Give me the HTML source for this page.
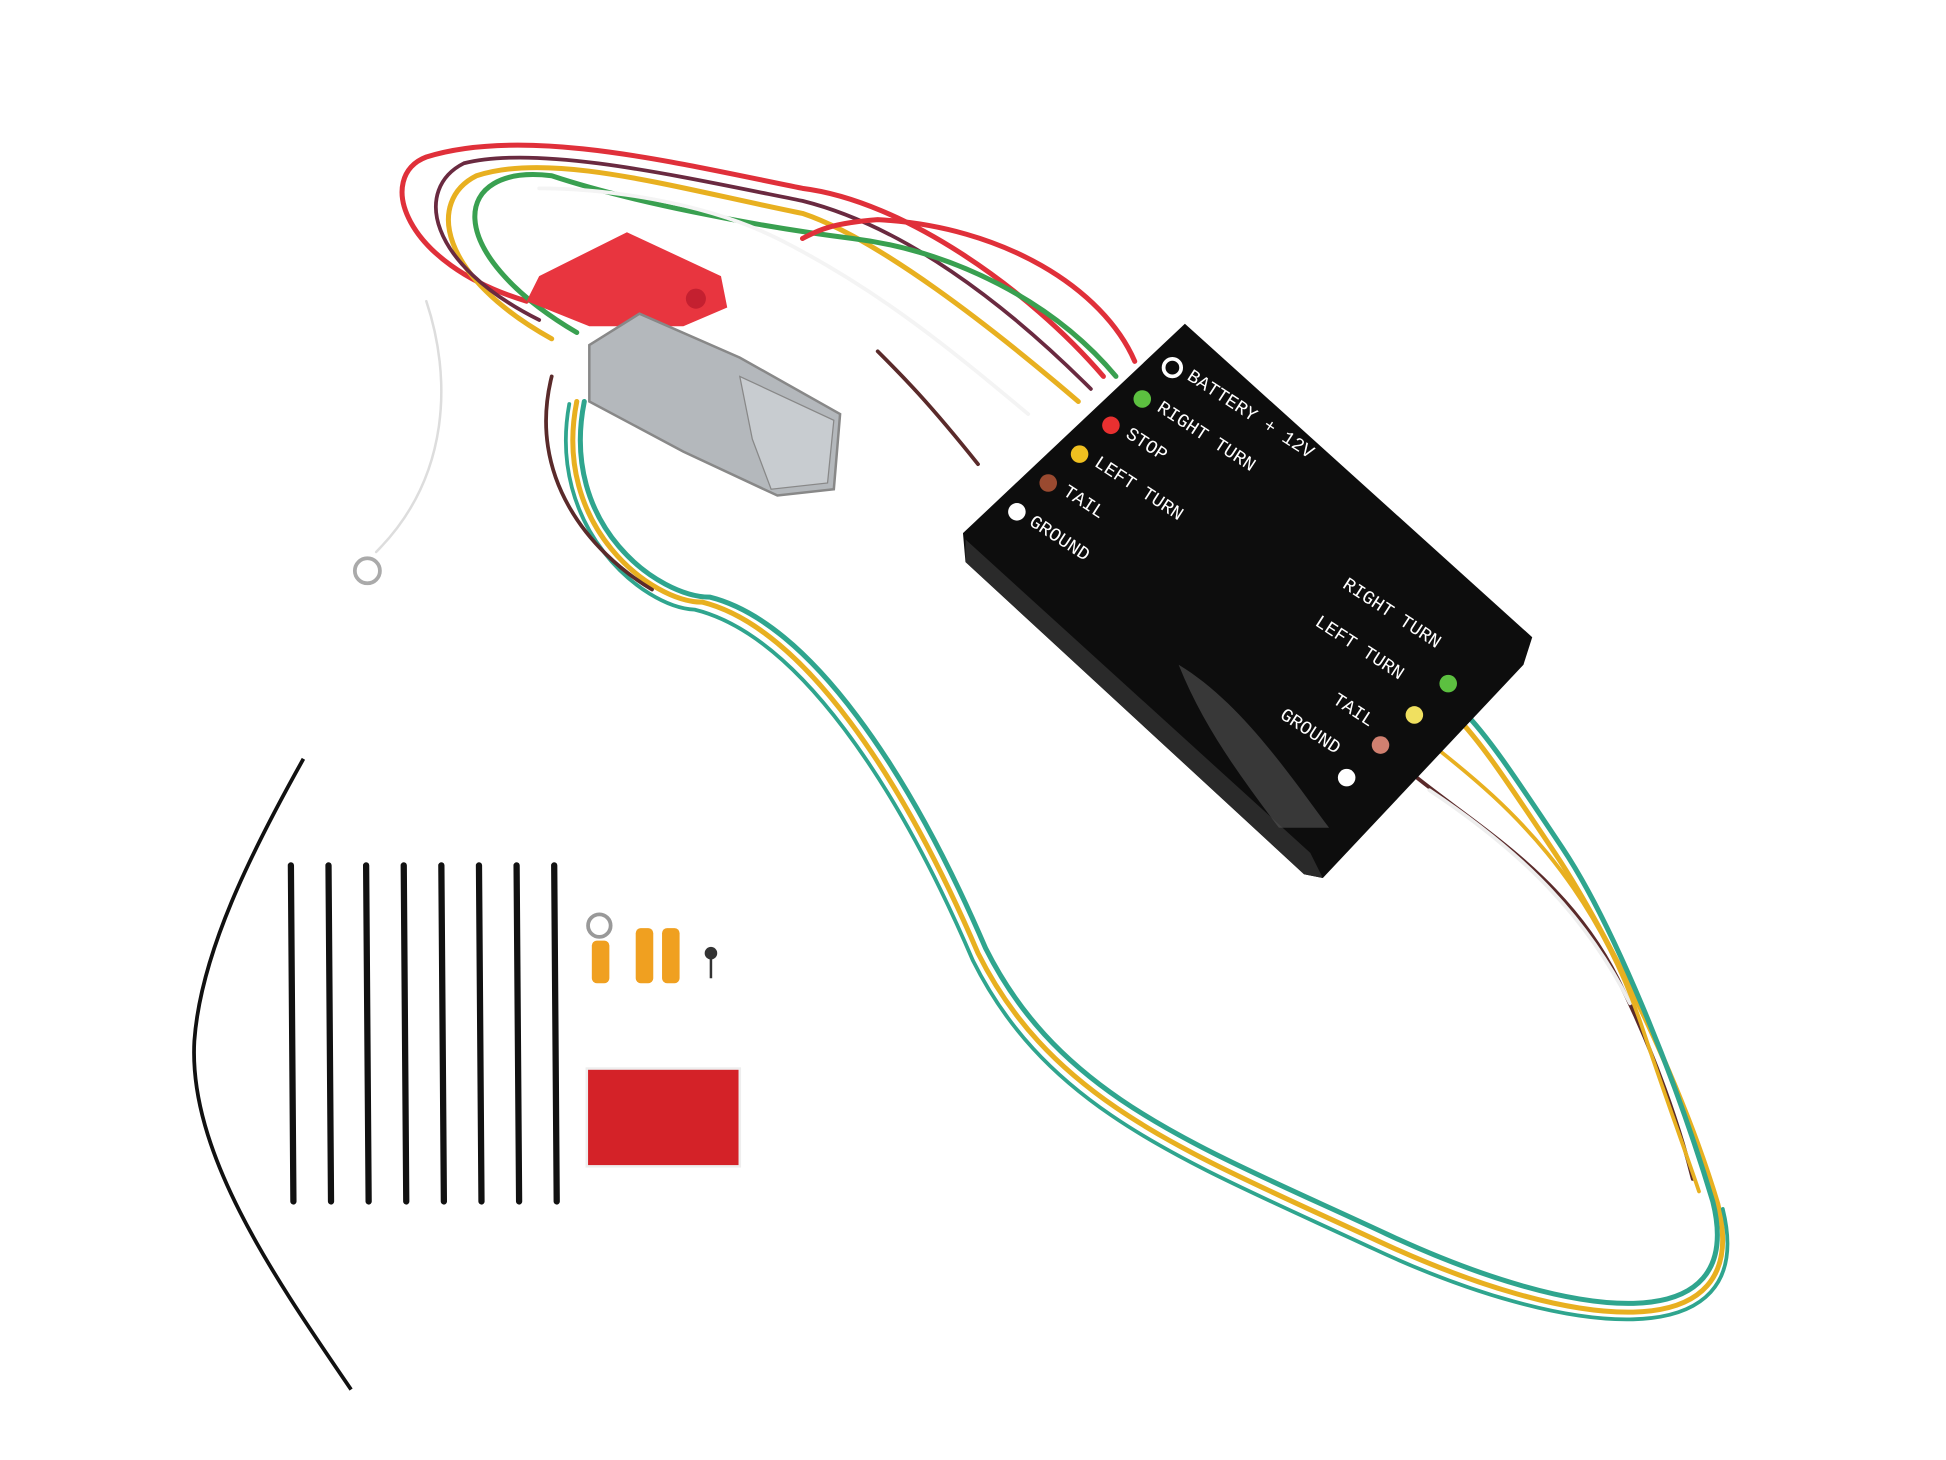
<!DOCTYPE html>
<html><head><style>html,body{margin:0;padding:0;background:#fff;width:1946px;height:1460px;overflow:hidden}</style></head>
<body>
<svg width="1946" height="1460" viewBox="0 0 1552 1164" xmlns="http://www.w3.org/2000/svg" font-family="Liberation Mono, monospace">
<rect width="1552" height="1164" fill="#fff"/>
<!-- long loop wires -->
<g fill="none" stroke-width="4" stroke-linecap="round">
<path d="M460 320 C440 420 520 480 560 480 C640 500 720 620 780 760 C840 880 950 920 1100 990 C1250 1060 1400 1080 1370 960 C1340 860 1280 740 1240 680 C1200 620 1180 590 1160 570" stroke="#e8b020"/>
<path d="M466 320 C446 420 526 476 566 476 C646 496 726 616 786 756 C846 876 956 914 1106 984 C1256 1054 1394 1070 1366 958 C1336 858 1286 736 1246 676 C1206 616 1186 586 1166 566" stroke="#2fa58e"/>
<path d="M454 322 C436 420 512 484 554 486 C636 506 716 626 776 766 C836 886 946 926 1096 996 C1246 1066 1404 1086 1374 964" stroke="#2fa58e" stroke-width="3"/>
<path d="M440 300 C420 380 470 440 520 470" stroke="#5a2a2a" stroke-width="3"/>
<path d="M1130 620 C1180 660 1250 700 1290 780 C1320 840 1340 900 1350 940" stroke="#5a2a2a" stroke-width="3"/>
<path d="M1140 630 C1200 670 1260 720 1300 800" stroke="#eee" stroke-width="3"/>
<path d="M1150 600 C1200 640 1270 700 1310 820 C1330 880 1345 920 1355 950" stroke="#e8b020" stroke-width="3"/>
<!-- top loop wires -->
<path d="M880 300 C820 230 720 160 640 150 C540 130 420 100 340 125 C300 140 320 210 420 240" stroke="#e0303a"/>
<path d="M860 320 C790 260 700 190 640 170 C540 150 440 120 380 140 C340 160 350 220 440 270" stroke="#e8b020"/>
<path d="M870 310 C800 240 720 180 640 160 C540 140 430 115 370 130 C330 150 340 210 430 255" stroke="#6a2a40" stroke-width="3"/>
<path d="M890 300 C840 240 760 200 680 190 C600 180 500 160 440 140 C360 130 350 200 460 265" stroke="#39a050"/>
<path d="M905 288 C880 230 800 180 700 175 C660 178 650 185 640 190" stroke="#e0303a"/>
<path d="M820 330 C760 280 700 230 620 190 C560 160 480 150 430 150" stroke="#f4f4f4" stroke-width="3"/>
<path d="M780 370 C740 320 720 300 700 280" stroke="#5a2a2a" stroke-width="3"/>
<path d="M340 240 C360 300 360 380 300 440" stroke="#ddd" stroke-width="2"/>
</g>
<circle cx="293" cy="455" r="10" fill="none" stroke="#aaa" stroke-width="3"/>
<!-- red fuse holder -->
<polygon points="430,220 500,185 575,220 580,245 545,260 470,260 420,240" fill="#e8353f"/>
<circle cx="555" cy="238" r="8" fill="#c42030"/>
<!-- gray connector -->
<polygon points="470,275 510,250 590,285 670,330 665,390 620,395 545,360 470,320" fill="#b4b8bc" stroke="#888" stroke-width="2"/>
<polygon points="590,300 665,335 660,385 615,390 600,350" fill="#c8ccd0" stroke="#888"/>
<!-- black box -->
<polygon points="945,258 1222,508 1215,530 1055,700 1040,697 770,448 768,425" fill="#0d0d0d"/>
<polygon points="770,430 1045,680 1055,700 1040,697 770,448" fill="#2a2a2a"/>
<path d="M940 530 C990 560 1030 620 1060 660 L1020 660 C990 620 960 580 940 530Z" fill="#555" opacity="0.6"/>
<g fill="#fff" font-size="15">
<circle cx="935" cy="293" r="7" fill="none" stroke="#fff" stroke-width="3"/>
<text transform="translate(946,302) rotate(33)">BATTERY + 12V</text>
<circle cx="911" cy="318" r="7" fill="#5cc040"/>
<text transform="translate(922,327) rotate(33)">RIGHT TURN</text>
<circle cx="886" cy="339" r="7" fill="#e83030"/>
<text transform="translate(897,348) rotate(33)">STOP</text>
<circle cx="861" cy="362" r="7" fill="#f0c020"/>
<text transform="translate(872,371) rotate(33)">LEFT TURN</text>
<circle cx="836" cy="385" r="7" fill="#9a4a30"/>
<text transform="translate(847,394) rotate(33)">TAIL</text>
<circle cx="811" cy="408" r="7" fill="#fff"/>
<text transform="translate(820,418) rotate(33)">GROUND</text>
<text transform="translate(1070,468) rotate(33)">RIGHT TURN</text>
<circle cx="1155" cy="545" r="7" fill="#5cc040"/>
<text transform="translate(1048,498) rotate(33)">LEFT TURN</text>
<circle cx="1128" cy="570" r="7" fill="#f0e060"/>
<text transform="translate(1062,560) rotate(33)">TAIL</text>
<circle cx="1101" cy="594" r="7" fill="#d08070"/>
<text transform="translate(1020,572) rotate(33)">GROUND</text>
<circle cx="1074" cy="620" r="7" fill="#fff"/>
</g>
<!-- ties -->
<g stroke="#111" stroke-width="5" stroke-linecap="round">
<line x1="232" y1="690" x2="234" y2="958"/><line x1="262" y1="690" x2="264" y2="958"/>
<line x1="292" y1="690" x2="294" y2="958"/><line x1="322" y1="690" x2="324" y2="958"/>
<line x1="352" y1="690" x2="354" y2="958"/><line x1="382" y1="690" x2="384" y2="958"/>
<line x1="412" y1="690" x2="414" y2="958"/><line x1="442" y1="690" x2="444" y2="958"/>
</g>
<path d="M242 605 C200 680 160 760 155 830 C150 920 220 1020 280 1108" fill="none" stroke="#111" stroke-width="3"/>
<!-- small parts -->
<circle cx="478" cy="738" r="9" fill="none" stroke="#999" stroke-width="3"/>
<rect x="472" y="750" width="14" height="34" rx="4" fill="#f0a020"/>
<rect x="507" y="740" width="14" height="44" rx="4" fill="#f0a020"/>
<rect x="528" y="740" width="14" height="44" rx="4" fill="#f0a020"/>
<circle cx="567" cy="760" r="5" fill="#333"/><line x1="567" y1="760" x2="567" y2="780" stroke="#333" stroke-width="2"/>
<rect x="468" y="852" width="122" height="78" fill="#d42228"/>
<rect x="468" y="852" width="122" height="78" fill="none" stroke="#eee" stroke-width="2"/>
</svg>
</body></html>
